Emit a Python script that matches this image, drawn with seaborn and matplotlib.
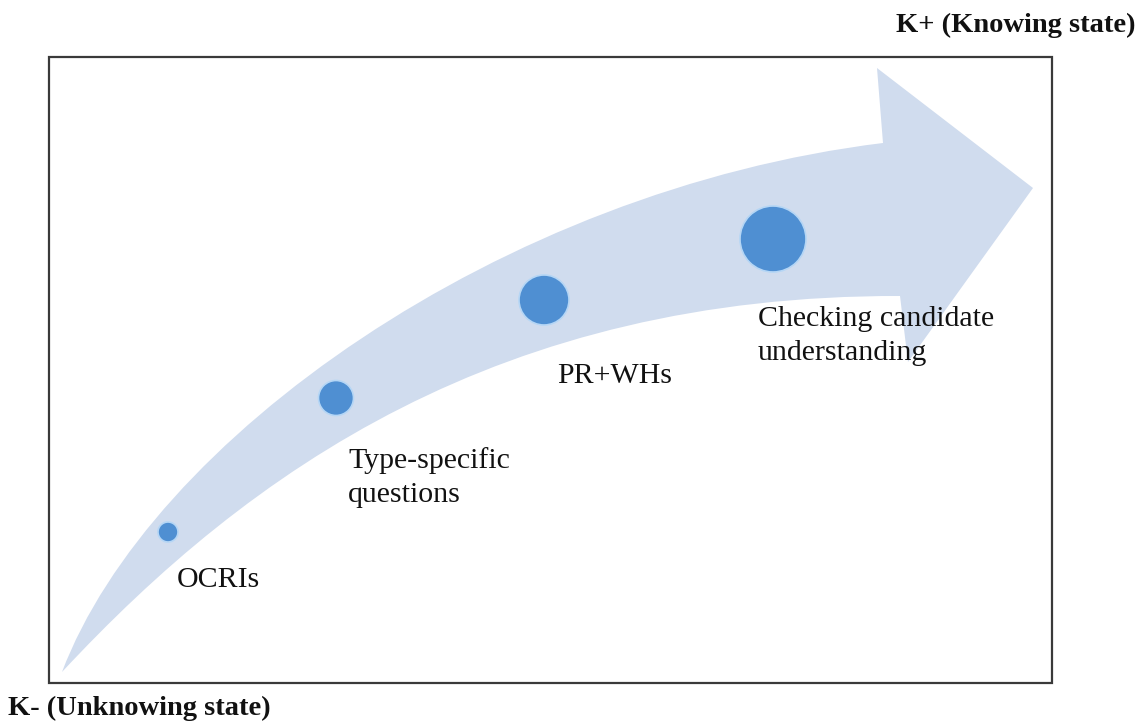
import matplotlib
matplotlib.use("Agg")
import matplotlib.pyplot as plt
from matplotlib.path import Path
from matplotlib.patches import PathPatch, Rectangle
import pandas as pd
import seaborn as sns

# stages along the knowledge arrow (pixel-like canvas coordinates)
stage_labels = ["OCRIs", "Type-specific\nquestions", "PR+WHs",
                "Checking candidate\nunderstanding"]
stage_x = [168, 336, 544, 773]
stage_y = [532, 398, 300, 239]
stage_weight = [100, 306, 625, 1089]
label_x = [177, 348, 557, 758]
# baseline of the last line of each label
label_y = [587, 502, 383, 360]

sns.set_theme(style="white")
plt.rcParams['font.family'] = ['Liberation Serif', 'DejaVu Serif']

df = pd.DataFrame({"x": stage_x, "y": stage_y, "w": stage_weight,
                   "stage": stage_labels})

fig = plt.figure(figsize=(11.43, 7.22), dpi=100)
ax = fig.add_axes([0, 0, 1, 1])
ax.set_xlim(0, 1143)
ax.set_ylim(722, 0)
ax.axis("off")

# outer frame
ax.add_patch(Rectangle((49, 57), 1003, 626, fill=False,
                       edgecolor="#3a3a3a", lw=1.6, zorder=1))

# curved arrow
verts = [
    (62, 672),
    (150, 440), (500, 190), (883, 143),
    (877, 68),
    (1033, 188),
    (908, 362),
    (900, 296),
    (500, 295), (250, 470), (62, 672),
    (62, 672),
]
codes = [Path.MOVETO,
         Path.CURVE4, Path.CURVE4, Path.CURVE4,
         Path.LINETO, Path.LINETO, Path.LINETO, Path.LINETO,
         Path.CURVE4, Path.CURVE4, Path.CURVE4,
         Path.CLOSEPOLY]
ax.add_patch(PathPatch(Path(verts, codes), facecolor="#d0dcee",
                       edgecolor="none", zorder=2))

sns.scatterplot(data=df, x="x", y="y", size="w", sizes=(207, 2258),
                size_norm=(100, 1089), color="#4f8fd2", edgecolor="#b5d6f5",
                linewidth=1.2, legend=False, ax=ax, zorder=3)

for lx, ly, txt in zip(label_x, label_y, stage_labels):
    ax.text(lx, ly, txt, fontsize=21.5, color="#111111", ha="left",
            va="baseline", linespacing=1.4, zorder=4)

ax.text(1136, 32, "K+ (Knowing state)", fontsize=20.5, fontweight="bold",
        ha="right", va="baseline", color="#111111")
ax.text(8, 715, "K- (Unknowing state)", fontsize=20.5, fontweight="bold",
        ha="left", va="baseline", color="#111111")

fig.savefig("out.png", dpi=100)
